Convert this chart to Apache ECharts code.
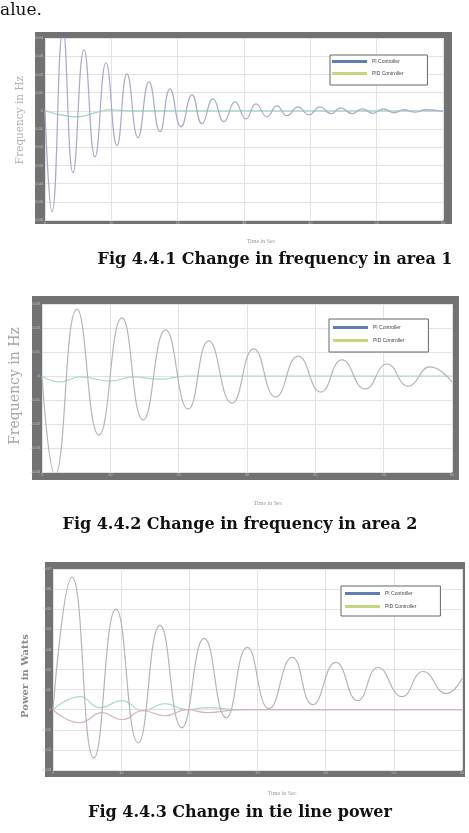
<!DOCTYPE html>
<html>
<head>
    <meta charset="utf-8">
    <script src="https://cdn.jsdelivr.net/npm/echarts@6/dist/echarts.min.js"></script>
    <style>
        html, body { margin: 0; padding: 0; background: #fff; }
    </style>
</head>
<body>
    <div id="main" style="width: 469px;height:833px;"></div>

<script type="text/javascript">

// fig 4.4.1 - frequency in area 1
var t1PI = [0, 1.06, 2.71, 4.22, 5.88, 7.54, 9.2, 10.85, 12.36, 14.02, 15.68, 17.34, 18.84, 20.5, 22.16, 23.67, 25.33, 26.98, 28.64, 30.3, 31.81, 33.47, 34.97, 36.48, 38.14, 39.8, 41.46, 43.1, 44.6, 46.3, 47.8, 49.4, 51.0, 52.6, 54.1, 55.8, 57.3, 60];
var v1PI = [0, -0.0555, 0.045, -0.034, 0.0335, -0.0253, 0.0264, -0.0192, 0.0203, -0.0148, 0.0159, -0.0115, 0.0121, -0.0088, 0.0088, -0.0071, 0.0066, -0.006, 0.0049, -0.0044, 0.0038, -0.0033, 0.0027, -0.0027, 0.0022, -0.0022, 0.0022, -0.0016, 0.0016, -0.0016, 0.0011, -0.0014, 0.0011, -0.0011, 0.0006, -0.0008, 0.0006, -0.0003];
var t1PID = [0, 2.3, 4.8, 7.5, 9.8, 12.8, 60];
var v1PID = [0, -0.0022, -0.0033, -0.0011, 0.0005, 0, 0];

// fig 4.4.2 - frequency in area 2
var t2PI = [0, 1.9, 5.12, 8.34, 11.7, 14.8, 18.1, 21.4, 24.4, 27.8, 31.0, 34.2, 37.5, 40.8, 43.9, 47.3, 50.5, 53.6, 56.8, 60];
var v2PI = [0, -0.041, 0.0279, -0.0246, 0.0242, -0.0183, 0.0192, -0.0138, 0.0146, -0.0113, 0.0113, -0.0088, 0.0083, -0.0067, 0.0067, -0.0054, 0.005, -0.0042, 0.0038, -0.0025];
var t2PID = [0, 2.6, 5.6, 10, 13.3, 17.3, 21.2, 60];
var v2PID = [0, -0.0025, -0.0004, -0.0021, -0.0004, -0.0013, 0, 0];

// fig 4.4.3 - tie line power
var t3PI = [0, 2.79, 6.0, 9.24, 12.5, 15.7, 18.9, 22.2, 25.4, 28.5, 31.7, 35.1, 38.1, 41.5, 44.7, 47.7, 51.2, 54.3, 57.7, 60];
var v3PI = [0, 0.066, -0.024, 0.05, -0.0165, 0.042, -0.009, 0.0355, -0.004, 0.031, 0.0005, 0.026, 0.0025, 0.0235, 0.0045, 0.021, 0.0065, 0.019, 0.008, 0.0155];
var t3PID = [0, 3.96, 6.9, 10.1, 13.2, 16.4, 19.7, 22.6, 27.4, 60];
var v3PID = [0, 0.0065, 0.001, 0.0045, -0.0005, 0.003, 0, 0.001, 0, 0];
var t3PID2 = [0, 3.96, 7.2, 10.1, 13.2, 16.4, 19.7, 22.6, 27.4, 60];
var v3PID2 = [0, -0.0065, -0.0015, -0.005, -0.0005, -0.003, 0, -0.0015, 0, 0];

var yMin = [-0.06, -0.04, -0.03];
var yMax = [0.04, 0.03, 0.07];

function pairs(t, v) {
    return t.map(function (x, i) { return [x, v[i]]; });
}

var grids = [
    { left: 45, top: 38, width: 398, height: 182 },
    { left: 42, top: 304, width: 410, height: 168 },
    { left: 53, top: 569, width: 409, height: 201 }
];
var frames = [
    { x: 35, y: 32, width: 417, height: 192 },
    { x: 32, y: 296, width: 427, height: 184 },
    { x: 45, y: 562, width: 420, height: 215 }
];

var xAxes = [], yAxes = [], graphics = [];
grids.forEach(function (g, i) {
    xAxes.push({
        type: 'value', gridIndex: i, min: 0, max: 60, interval: 10,
        axisLine: { show: false },
        axisTick: { show: false },
        axisLabel: { fontSize: 4, color: '#bbb', margin: 1 },
        splitLine: { lineStyle: { color: '#e2e2e2', width: 1 } }
    });
    yAxes.push({
        type: 'value', gridIndex: i, min: yMin[i], max: yMax[i], interval: 0.01,
        axisLine: { show: false },
        axisTick: { show: false },
        axisLabel: { fontSize: 4, color: '#c4c4c4', margin: 2 },
        splitLine: { lineStyle: { color: '#e2e2e2', width: 1 } }
    });
    graphics.push({ type: 'rect', z: -10, shape: frames[i], style: { fill: '#727272' } });
    graphics.push({ type: 'rect', z: -9, shape: { x: g.left, y: g.top, width: g.width, height: g.height }, style: { fill: '#fff' } });
});

function txt(x, y, text, font, color, rot) {
    return {
        type: 'text', x: x, y: y, rotation: rot || 0,
        style: { text: text, font: font, fill: color, align: 'center', verticalAlign: 'middle' }
    };
}

graphics.push({ type: 'text', x: 0, y: 2, style: { text: 'alue.', font: '17px "DejaVu Serif"', fill: '#111' } });
graphics.push(txt(20, 120, 'Frequency in Hz', '10.5px "DejaVu Serif"', '#b0b0b0', Math.PI / 2));
graphics.push(txt(261, 241, 'Time in Sec', '6px "Liberation Serif"', '#999'));
graphics.push(txt(275, 260, 'Fig 4.4.1 Change in frequency in area 1', 'bold 16px "DejaVu Serif"', '#111'));
graphics.push(txt(15, 386, 'Frequency in Hz', '14px "DejaVu Serif"', '#a6a6a6', Math.PI / 2));
graphics.push(txt(268, 503, 'Time in Sec', '6px "Liberation Serif"', '#999'));
graphics.push(txt(240, 525, 'Fig 4.4.2 Change in frequency in area 2', 'bold 16px "DejaVu Serif"', '#111'));
graphics.push(txt(25, 676, 'Power in Watts', 'bold 10px "DejaVu Serif"', '#8a8a8a', Math.PI / 2));
graphics.push(txt(282, 793, 'Time in Sec', '6px "Liberation Serif"', '#999'));
graphics.push(txt(240, 813, 'Fig 4.4.3 Change in tie line power', 'bold 16px "DejaVu Serif"', '#111'));

function legendAt(left, top, padding, gap, textGap) {
    return {
        orient: 'vertical', left: left, top: top, padding: padding,
        itemGap: gap, itemTextGap: textGap,
        icon: 'rect', itemWidth: 35, itemHeight: 3,
        backgroundColor: '#fff', borderColor: '#666', borderWidth: 1,
        textStyle: { fontSize: 5, lineHeight: 5, color: '#444', fontFamily: 'Liberation Sans' },
        data: [
            { name: 'PI Controller', itemStyle: { color: '#5f7fb4' } },
            { name: 'PID Controller', itemStyle: { color: '#c6d67e' } }
        ]
    };
}

function line(name, i, data, color) {
    return {
        name: name, type: 'line', xAxisIndex: i, yAxisIndex: i,
        data: data, smooth: 0.5, showSymbol: false,
        lineStyle: { color: color, width: 1.2 }, itemStyle: { color: color }
    };
}

var myChart = echarts.init(document.getElementById('main'));
var option = {
    backgroundColor: '#fff',
    animation: false,
    grid: grids,
    xAxis: xAxes,
    yAxis: yAxes,
    legend: [
        legendAt(330, 55, [4, 24, 9, 2], 7, 8),
        legendAt(329, 319, [6, 24, 9, 4], 8, 9),
        legendAt(341, 586, [5, 24, 7, 4], 8, 7)
    ],
    graphic: graphics,
    series: [
        line('PID Controller', 0, pairs(t1PID, v1PID), '#9fd4c2'),
        line('PI Controller', 0, pairs(t1PI, v1PI), '#aaaacb'),
        line('PID Controller', 1, pairs(t2PID, v2PID), '#a6dccb'),
        line('PI Controller', 1, pairs(t2PI, v2PI), '#b5b5b5'),
        line('PID Controller', 2, pairs(t3PID, v3PID), '#a8dcc0'),
        line('PID Controller 2', 2, pairs(t3PID2, v3PID2), '#dcb0b8'),
        line('PI Controller', 2, pairs(t3PI, v3PI), '#b5b5b5')
    ]
};
myChart.setOption(option);

</script>
</body>
</html>
